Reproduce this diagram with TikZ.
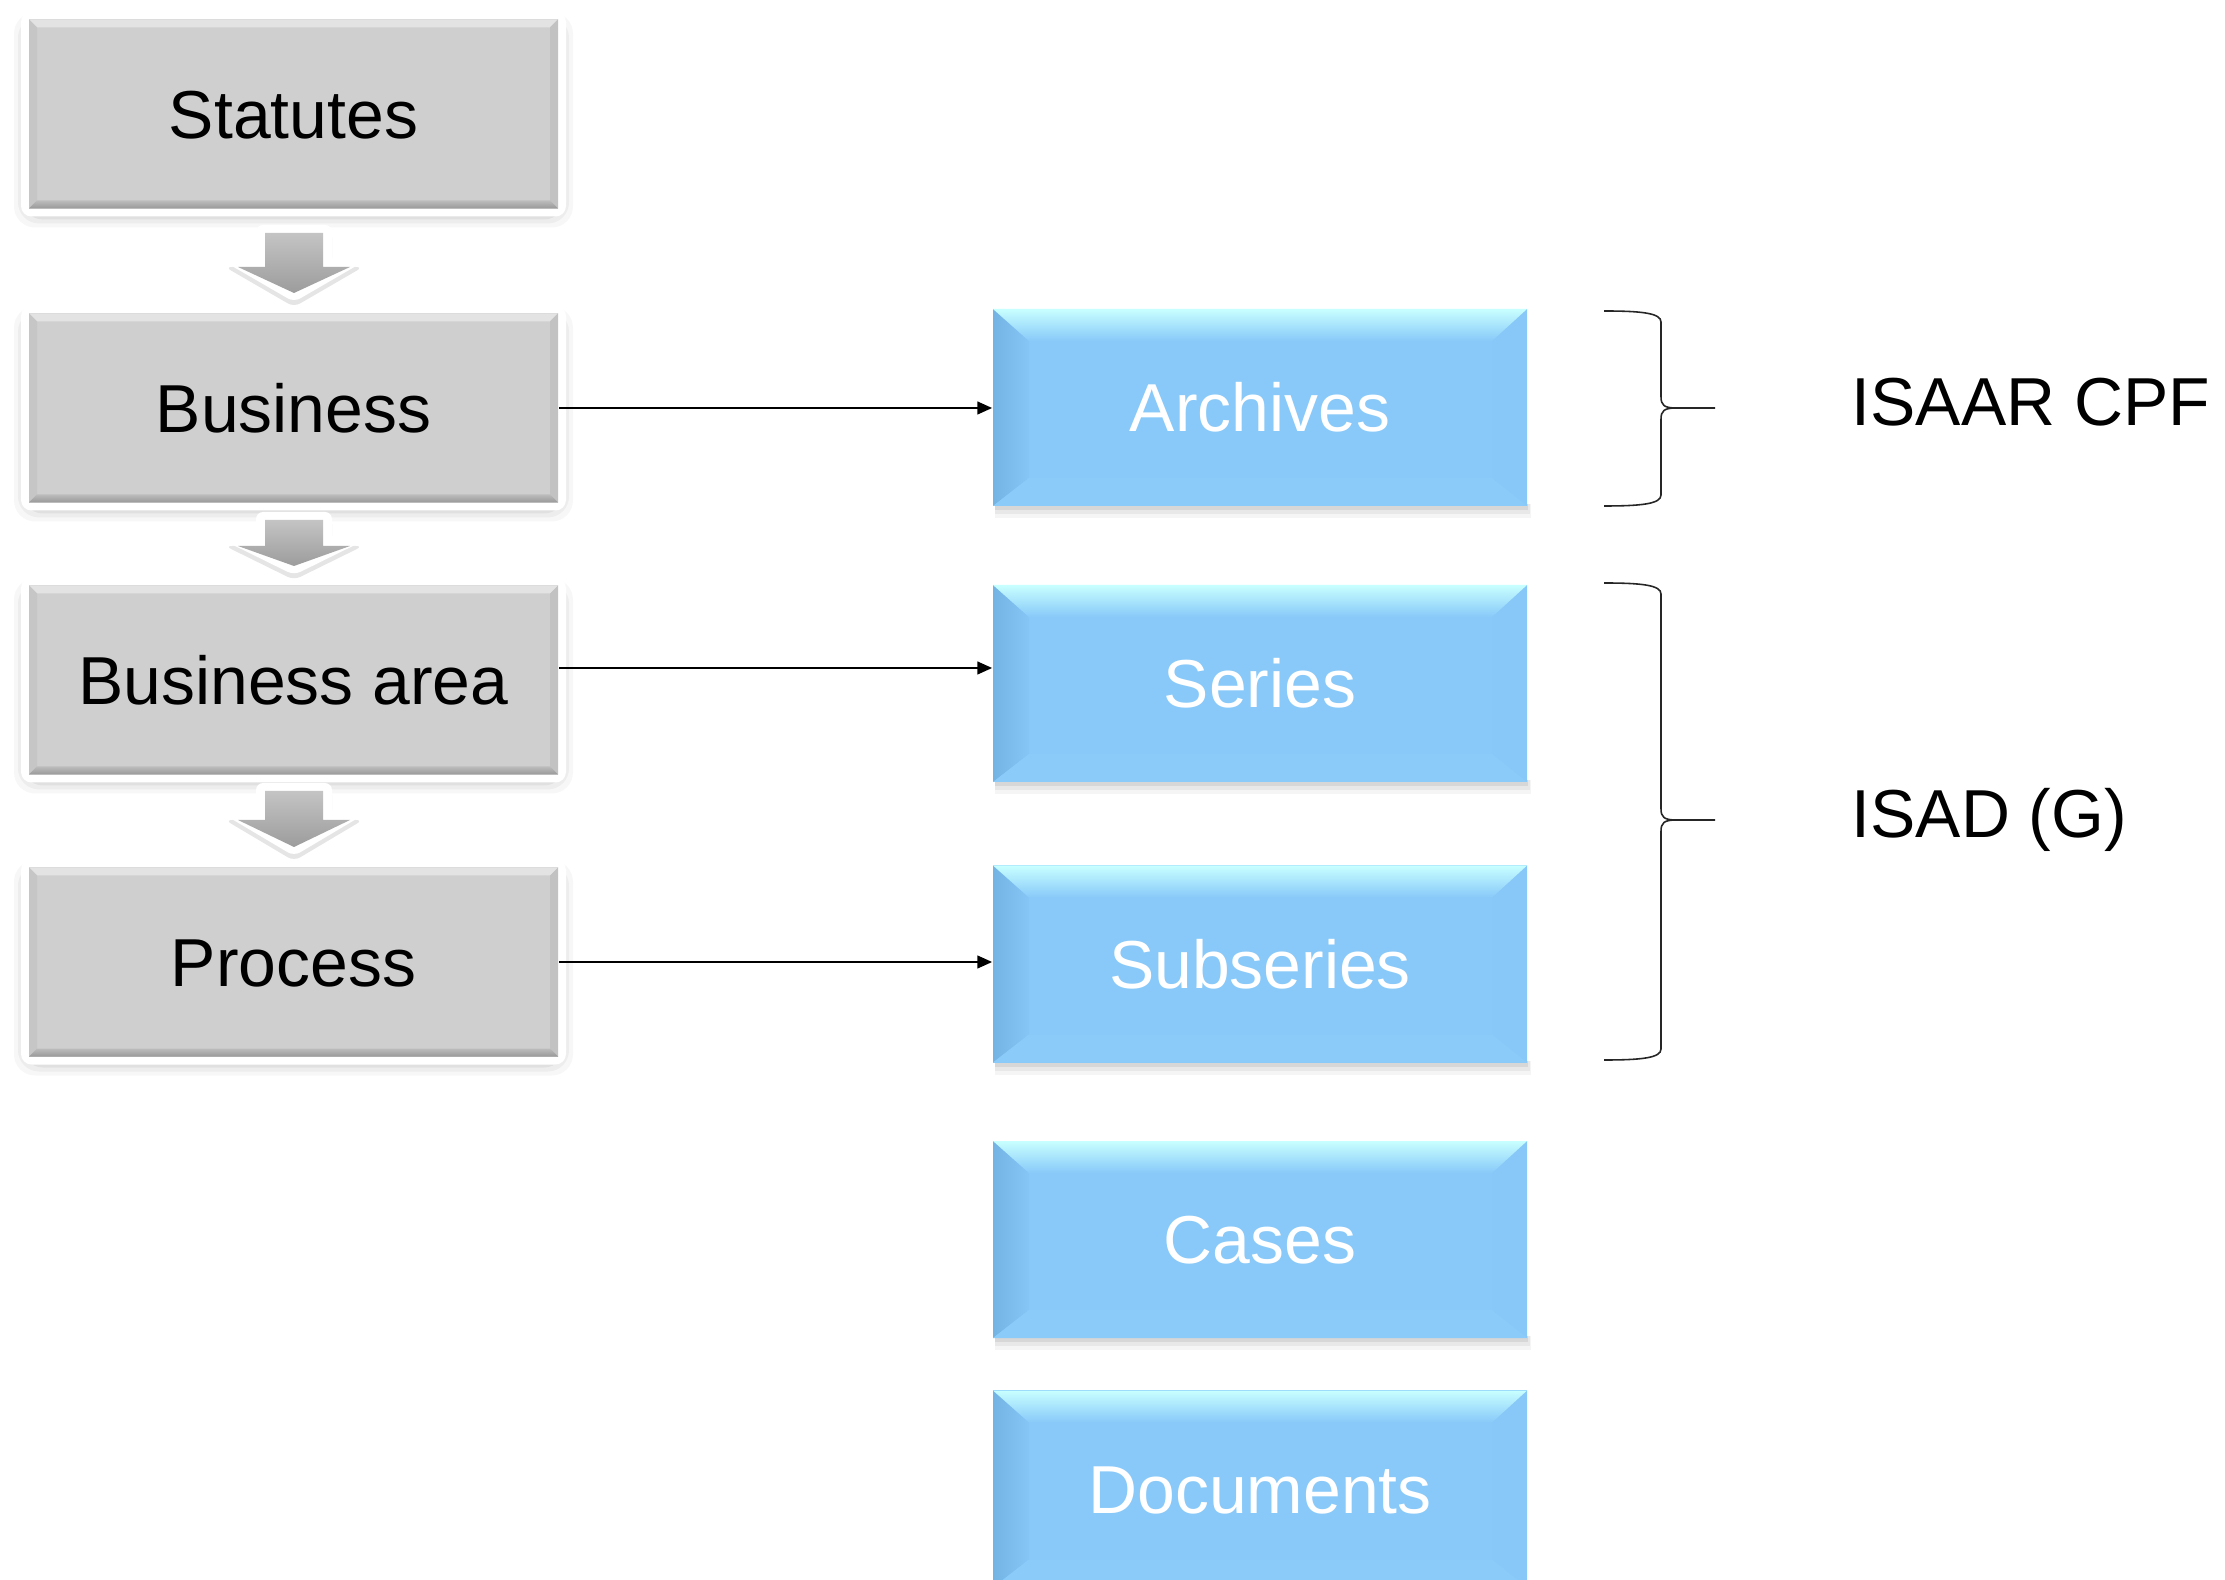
\documentclass[tikz,border=0pt]{standalone}
\usepackage{fontspec}
\setmainfont{Liberation Sans}
\usetikzlibrary{arrows.meta}
\definecolor{boxgray}{HTML}{CFCFCF}
\definecolor{graytop}{HTML}{E3E3E3}
\definecolor{grayleft}{HTML}{C6C6C6}
\definecolor{grayright}{HTML}{C2C2C2}
\definecolor{graybotin}{HTML}{BCBCBC}
\definecolor{graybotout}{HTML}{989898}
\definecolor{bluemain}{HTML}{88C9F9}
\definecolor{bluetop}{HTML}{C8FFFF}
\definecolor{blueleftout}{HTML}{74B3E3}
\definecolor{blueleftin}{HTML}{86C6F6}
\definecolor{blueright}{HTML}{87C8F8}
\definecolor{bluebot}{HTML}{8ACBF9}
\definecolor{arrowtop}{HTML}{C4C4C4}
\definecolor{arrowbot}{HTML}{9C9C9C}

\tikzset{
 basefont/.style={font=\fontsize{19.3}{23}\selectfont},
 grayboxnode/.style={basefont, fill=boxgray, minimum width=5.29cm, minimum height=1.89cm, inner sep=0pt, text height=13.9pt, text depth=0pt, text=black},
 blueboxnode/.style={basefont, fill=bluemain, minimum width=5.34cm, minimum height=1.97cm, inner sep=0pt, text height=13.9pt, text depth=0pt, text=white},
 labeltext/.style={basefont, inner sep=0pt, text=black},
 conn/.style={draw=black, line width=0.6pt, -{Triangle[length=4.2pt,width=3.6pt]}},
 bracepath/.style={draw=black!85, line width=0.45pt},
}

\newcommand\grayunit[4]{%
 \pgfmathsetmacro\gxa{#2-264.5}\pgfmathsetmacro\gxb{#2+264.5}%
 \pgfmathsetmacro\gya{#3-94.5}\pgfmathsetmacro\gyb{#3+94.5}%
 \foreach \sh/\op in {15/0.03,11/0.04,7/0.05,3/0.06}{%
   \fill[black,opacity=\op,rounded corners=6pt] ({\gxa-\sh},{\gya-\sh+8}) rectangle ({\gxb+\sh},{\gyb+\sh+4});}%
 \fill[white,rounded corners=3pt] ({\gxa-8},{\gya-8}) rectangle ({\gxb+8},{\gyb+8});%
 \node[grayboxnode] (#1) at (#2,#3) {#4};%
 \fill[graytop] (\gxa,\gya) -- (\gxb,\gya) -- ({\gxb-8},{\gya+8}) -- ({\gxa+8},{\gya+8}) -- cycle;%
 \fill[grayleft] (\gxa,\gya) -- ({\gxa+8},{\gya+8}) -- ({\gxa+8},{\gyb-8}) -- (\gxa,\gyb) -- cycle;%
 \fill[grayright] (\gxb,\gya) -- ({\gxb-8},{\gya+8}) -- ({\gxb-8},{\gyb-8}) -- (\gxb,\gyb) -- cycle;%
 \shade[top color=graybotin,bottom color=graybotout] (\gxa,\gyb) -- (\gxb,\gyb) -- ({\gxb-8},{\gyb-8}) -- ({\gxa+8},{\gyb-8}) -- cycle;%
}

\newcommand\blueunit[4]{%
 \pgfmathsetmacro\bxa{#2-267}\pgfmathsetmacro\bxb{#2+267}%
 \pgfmathsetmacro\bya{#3-98.5}\pgfmathsetmacro\byb{#3+98.5}%
 \foreach \sh/\op in {12/0.04,8/0.05,4/0.07}{%
   \fill[black,opacity=\op] ({\bxa+2},{\byb-2}) rectangle ({\bxb+\sh/3},{\byb+\sh});}%
 \node[blueboxnode] (#1) at (#2,#3) {#4};%
 \shade[left color=blueleftout,right color=blueleftin] (\bxa,\bya) -- ({\bxa+36},{\bya+32}) -- ({\bxa+36},{\byb-28}) -- (\bxa,\byb) -- cycle;%
 \fill[blueright] (\bxb,\bya) -- ({\bxb-35},{\bya+32}) -- ({\bxb-35},{\byb-28}) -- (\bxb,\byb) -- cycle;%
 \fill[bluebot] (\bxa,\byb) -- (\bxb,\byb) -- ({\bxb-35},{\byb-28}) -- ({\bxa+36},{\byb-28}) -- cycle;%
 \shade[top color=bluetop,bottom color=bluemain] (\bxa,\bya) -- (\bxb,\bya) -- ({\bxb-35},{\bya+32}) -- ({\bxa+36},{\bya+32}) -- cycle;%
}

\newcommand\downblock[4]{%
 \fill[black,opacity=0.10,rounded corners=2pt,shift={(0,5)}] ({#1-38},#2) -- ({#1+38},#2) -- ({#1+38},#3) -- ({#1+69},#3) -- (#1,#4) -- ({#1-69},#3) -- ({#1-38},#3) -- cycle;%
 \fill[white,rounded corners=2pt] ({#1-38},#2) -- ({#1+38},#2) -- ({#1+38},#3) -- ({#1+69},#3) -- (#1,#4) -- ({#1-69},#3) -- ({#1-38},#3) -- cycle;%
 \shade[top color=arrowtop,bottom color=arrowbot] ({#1-29},{#2+8}) -- ({#1+29},{#2+8}) -- ({#1+29},{#3+5}) -- ({#1+56},{#3+5}) -- (#1,{#4-9}) -- ({#1-56},{#3+5}) -- ({#1-29},{#3+5}) -- cycle;%
}

\newcommand\bracket[3]{% top, middle, bottom
 \draw[bracepath] (1604,#1) .. controls (1641,#1) and (1661,{#1+2}) .. (1661,{#1+11}) -- (1661,{#2-11}) .. controls (1661,{#2-3}) and (1664,#2) .. (1676,#2) -- (1715,#2);%
 \draw[bracepath] (1676,#2) .. controls (1664,#2) and (1661,{#2+3}) .. (1661,{#2+11}) -- (1661,{#3-11}) .. controls (1661,{#3-2}) and (1641,#3) .. (1604,#3);%
}

\begin{document}
\begin{tikzpicture}[x=0.01cm,y=-0.01cm]
\fill[white] (0,0) rectangle (2225,1580);
\useasboundingbox (0,0) rectangle (2225,1580);

% left column
\grayunit{stat}{293.5}{114}{Statutes}
\grayunit{bus}{293.5}{408}{Business}
\grayunit{barea}{293.5}{680}{Business area}
\grayunit{proc}{293.5}{962}{Process}

\downblock{294}{225}{262}{302}
\downblock{294}{512}{541}{575}
\downblock{294}{783}{815}{856}

% right column
\blueunit{arch}{1260}{407.5}{Archives}
\blueunit{ser}{1260}{683.5}{Series}
\blueunit{subser}{1260}{964}{Subseries}
\blueunit{cases}{1260}{1239.5}{Cases}
\blueunit{docs}{1260}{1489}{Documents}

% connectors
\draw[conn] (bus.east) -- (bus.east -| arch.west);
\draw[conn] ([yshift=0.12cm]barea.east) -- ([yshift=0.12cm]barea.east -| ser.west);
\draw[conn] (proc.east) -- (proc.east -| subser.west);

% braces
\bracket{311}{408}{506}
\bracket{583}{820}{1060}

\node[labeltext,anchor=base west] (isaar) at (1851,426) {ISAAR CPF};
\node[labeltext,anchor=base west] (isad) at (1851,838) {ISAD (G)};
\end{tikzpicture}
\end{document}
